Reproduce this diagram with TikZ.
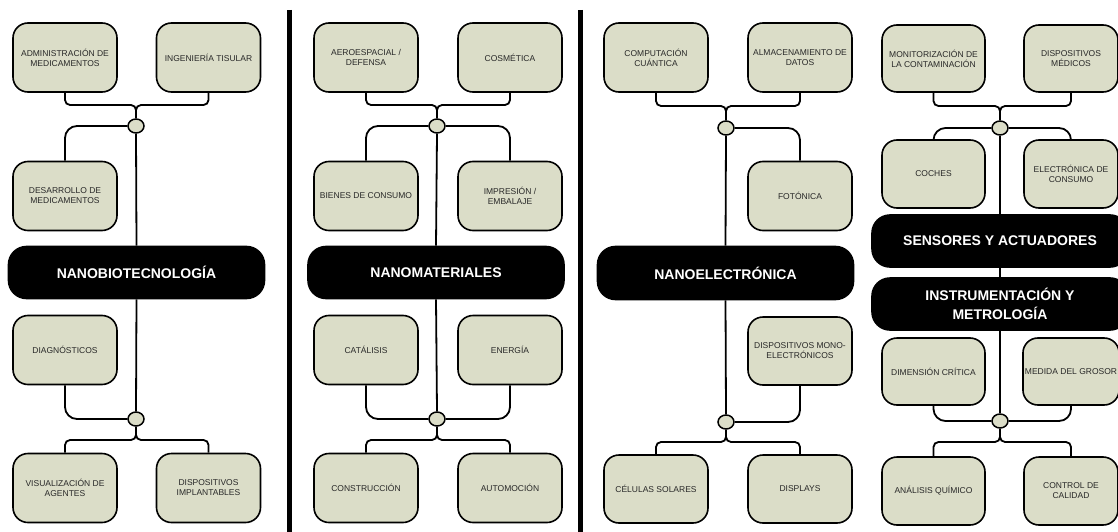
\documentclass[tikz,border=0pt]{standalone}
\usepackage{fontspec}
\setmainfont{Liberation Sans}
\usetikzlibrary{shapes.geometric}
\definecolor{boxfill}{RGB}{219,221,200}
\definecolor{txtgray}{RGB}{40,40,40}
\tikzset{
  sbox/.style={draw=black, line width=1.6pt, fill=boxfill, rounded corners=15pt,
    minimum width=104pt, minimum height=69pt, inner sep=2pt, align=center,
    text=txtgray, font=\fontsize{8.5}{10}\selectfont},
  tbox/.style={draw=black, line width=1.6pt, fill=black, rounded corners=18pt,
    minimum width=256pt, minimum height=52pt, inner sep=2pt, align=center,
    text=white, font=\fontsize{14}{19}\selectfont\bfseries},
  junc/.style={ellipse, draw=black, line width=1.5pt, fill=boxfill,
    minimum width=16pt, minimum height=14pt, inner sep=0pt},
  yconn/.style={draw=black, line width=1.8pt, rounded corners=5pt},
  sconn/.style={draw=black, line width=1.8pt, rounded corners=12pt},
  trunk/.style={draw=black, line width=1.8pt},
  sepline/.style={draw=black, line width=5pt}
}
\begin{document}
\begin{tikzpicture}[x=1pt,y=-1pt]
\useasboundingbox (0,0) rectangle (1118,532);
\clip (0,0) rectangle (1118,532);
\fill[white] (0,0) rectangle (1118,532);

% separators
\draw[sepline] (289,10) -- (289,533);
\draw[sepline] (580,10) -- (580,533);

% ================= Panel 1 =================
\coordinate (m1) at (136,105);
\coordinate (s1) at (136,440);
\node[sbox] (a1) at (65,57.5) {ADMINISTRACIÓN DE\\MEDICAMENTOS};
\node[sbox] (a2) at (208.5,57.5) {INGENIERÍA TISULAR};
\node[junc] (j1) at (136,126) {};
\node[sbox] (a3) at (65,196) {DESARROLLO DE\\MEDICAMENTOS};
\node[tbox] (t1) at (136.5,272.5) {NANOBIOTECNOLOGÍA};
\node[sbox] (a4) at (65,350) {DIAGNÓSTICOS};
\node[junc] (j2) at (136,419) {};
\node[sbox] (a5) at (65,488) {VISUALIZACIÓN DE\\AGENTES};
\node[sbox] (a6) at (208.5,488) {DISPOSITIVOS\\IMPLANTABLES};
\draw[yconn] (a1.south) |- (m1) -- (j1.north);
\draw[yconn] (a2.south) |- (m1) -- (j1.north);
\draw[sconn] (j1.west) -| (a3.north);
\draw[trunk] (j1.south) -- (t1.north);
\draw[trunk] (t1.south) -- (j2.north);
\draw[sconn] (a4.south) |- (j2.west);
\draw[yconn] (j2.south) -- (s1) -| (a5.north);
\draw[yconn] (j2.south) -- (s1) -| (a6.north);

% ================= Panel 2 =================
\coordinate (m2) at (437,105);
\coordinate (s2) at (437,440);
\node[sbox] (b1) at (366,57.5) {AEROESPACIAL /\\DEFENSA};
\node[sbox] (b2) at (510,57.5) {COSMÉTICA};
\node[junc] (j3) at (437,126) {};
\node[sbox] (b3) at (366,196) {BIENES DE CONSUMO};
\node[sbox] (b4) at (510,196) {IMPRESIÓN /\\EMBALAJE};
\node[tbox] (t2) at (436,272.5) {NANOMATERIALES};
\node[sbox] (b5) at (366,350) {CATÁLISIS};
\node[sbox] (b6) at (510,350) {ENERGÍA};
\node[junc] (j4) at (437,419) {};
\node[sbox] (b7) at (366,488) {CONSTRUCCIÓN};
\node[sbox] (b8) at (510,488) {AUTOMOCIÓN};
\draw[yconn] (b1.south) |- (m2) -- (j3.north);
\draw[yconn] (b2.south) |- (m2) -- (j3.north);
\draw[sconn] (j3.west) -| (b3.north);
\draw[sconn] (j3.east) -| (b4.north);
\draw[trunk] (j3.south) -- (t2.north);
\draw[trunk] (t2.south) -- (j4.north);
\draw[sconn] (b5.south) |- (j4.west);
\draw[sconn] (b6.south) |- (j4.east);
\draw[yconn] (j4.south) -- (s2) -| (b7.north);
\draw[yconn] (j4.south) -- (s2) -| (b8.north);

% ================= Panel 3 =================
\coordinate (m3) at (726,106);
\coordinate (s3) at (726,442);
\node[sbox] (c1) at (656,57.5) {COMPUTACIÓN\\CUÁNTICA};
\node[sbox] (c2) at (800,57.5) {ALMACENAMIENTO DE\\DATOS};
\node[junc] (j5) at (726,128) {};
\node[sbox] (c3) at (800,196) {FOTÓNICA};
\node[tbox, minimum height=53pt] (t3) at (725.5,273) {NANOELECTRÓNICA};
\node[sbox, minimum height=68pt] (c4) at (800,351) {DISPOSITIVOS MONO-\\ELECTRÓNICOS};
\node[junc] (j6) at (726,422) {};
\node[sbox, minimum height=68pt] (c5) at (656,489) {CÉLULAS SOLARES};
\node[sbox, minimum height=68pt] (c6) at (800,489) {DISPLAYS};
\draw[yconn] (c1.south) |- (m3) -- (j5.north);
\draw[yconn] (c2.south) |- (m3) -- (j5.north);
\draw[sconn] (j5.east) -| (c3.north);
\draw[trunk] (j5.south) -- (t3.north);
\draw[trunk] (t3.south) -- (j6.north);
\draw[sconn] (c4.south) |- (j6.east);
\draw[yconn] (j6.south) -- (s3) -| (c5.north);
\draw[yconn] (j6.south) -- (s3) -| (c6.north);

% ================= Panel 4 =================
\coordinate (m4) at (1000,106);
\coordinate (s4) at (1000,442);
\node[sbox, minimum width=103pt, minimum height=67pt] (d1) at (933.5,58.5) {MONITORIZACIÓN DE\\LA CONTAMINACIÓN};
\node[sbox, minimum width=94pt, minimum height=67pt] (d2) at (1071,58.5) {DISPOSITIVOS\\MÉDICOS};
\node[junc] (j7) at (1000,128) {};
\node[sbox, minimum width=103pt, minimum height=68pt] (d3) at (933.5,174) {COCHES};
\node[sbox, minimum width=94pt, minimum height=68pt] (d4) at (1071,174) {ELECTRÓNICA DE\\CONSUMO};
\node[tbox] (t4) at (1000,241) {SENSORES Y ACTUADORES};
\node[tbox] (t5) at (1000,304) {INSTRUMENTACIÓN Y\\METROLOGÍA};
\node[sbox, minimum width=103pt, minimum height=67pt] (d5) at (933.5,371.5) {DIMENSIÓN CRÍTICA};
\node[sbox, minimum width=94pt, minimum height=67pt] (d6) at (1071,371.5) {MEDIDA DEL GROSOR};
\node[junc] (j8) at (1000,421) {};
\node[sbox, minimum width=103pt, minimum height=68pt] (d7) at (933.5,491) {ANÁLISIS QUÍMICO};
\node[sbox, minimum width=94pt, minimum height=68pt] (d8) at (1071,491) {CONTROL DE\\CALIDAD};
\draw[yconn] (d1.south) |- (m4) -- (j7.north);
\draw[yconn] (d2.south) |- (m4) -- (j7.north);
\draw[sconn] (j7.west) -| (d3.north);
\draw[sconn] (j7.east) -| (d4.north);
\draw[trunk] (j7.south) -- (t4.north);
\draw[trunk] (t4.south) -- (t5.north);
\draw[trunk] (t5.south) -- (j8.north);
\draw[sconn] (d5.south) |- (j8.west);
\draw[sconn] (d6.south) |- (j8.east);
\draw[yconn] (j8.south) -- (s4) -| (d7.north);
\draw[yconn] (j8.south) -- (s4) -| (d8.north);
\end{tikzpicture}
\end{document}
